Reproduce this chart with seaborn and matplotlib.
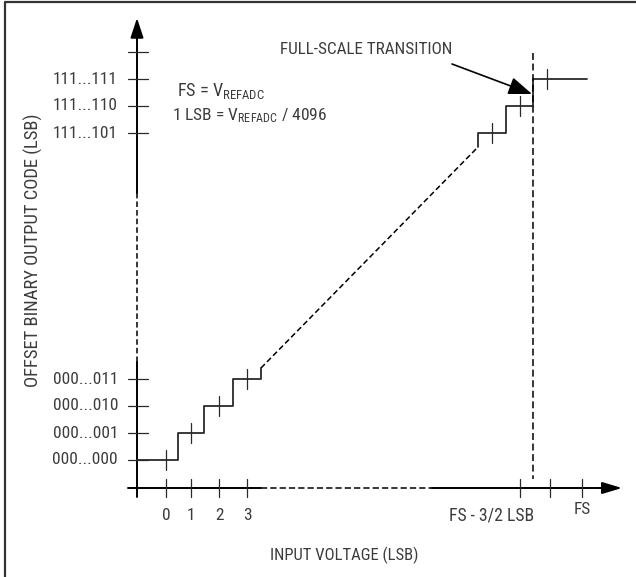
import matplotlib
matplotlib.use('Agg')
import matplotlib.pyplot as plt
from matplotlib import font_manager
import seaborn as sns
import pandas as pd

# diagram coordinates are in pixels of the 636x577 canvas (y grows downward)
code_tick_y = [460, 433, 406, 379, 133, 106, 79, 52]
code_labels = ['000...000', '000...001', '000...010', '000...011',
               '111...101', '111...110', '111...111', '']
volt_tick_x = [166, 191, 219, 247, 520, 550, 582]
volt_labels = ['0', '1', '2', '3', '', '', 'FS']

# lower staircase: transition points and output levels
lo_edges = [137, 178, 204, 233, 261]
lo_levels = [460, 433, 406, 379]
lo_centers = [166, 191, 219, 247]
# upper staircase
hi_edges = [478, 506, 533, 587]
hi_levels = [133, 106, 79]
hi_centers = [492, 520, 547]
# dashed ramp between the two staircases
ramp_x = [261, 478]
ramp_y = [368, 147]
transition_x = 533

names = {f.name for f in font_manager.fontManager.ttflist}
FONT = next(n for n in ['Roboto Condensed', 'Archivo Narrow', 'Liberation Sans Narrow',
                        'Liberation Sans'] if n in names)

sns.set_theme(style='white')
plt.rcParams['font.family'] = [FONT, 'DejaVu Sans']
plt.rcParams['lines.scale_dashes'] = False
plt.rcParams['mathtext.default'] = 'regular'
plt.rcParams['mathtext.fontset'] = 'custom'
plt.rcParams['mathtext.rm'] = FONT

TXT = '#3c3c3c'
LINE = '#2a2a2a'

fig = plt.figure(figsize=(6.36, 5.77), dpi=100)
ax = fig.add_axes([0, 0, 1, 1])
ax.set_xlim(0, 636)
ax.set_ylim(577, 0)
ax.axis('off')
renderer = fig.canvas.get_renderer()


def stairs(edges, levels):
    xs, ys = [], []
    for i, lev in enumerate(levels):
        xs += [edges[i], edges[i + 1]]
        ys += [lev, lev]
    return xs, ys


def draw(xs, ys, **kw):
    df = pd.DataFrame({'x': xs, 'y': ys})
    sns.lineplot(data=df, x='x', y='y', sort=False, estimator=None, ax=ax, **kw)


def fit_size(txt, target, vertical=False):
    # font size that makes txt span `target` pixels, as measured on the reference
    t = ax.text(0, 0, txt, fontsize=12, rotation=90 if vertical else 0)
    bb = t.get_window_extent(renderer)
    t.remove()
    return 12 * target / (bb.height if vertical else bb.width)


# outer frame (left and top)
draw([4.5, 4.5, 636], [577, 2, 2], color='#333333', linewidth=1.6)

# axes
draw([137, 137], [497, 362], color='black', linewidth=1.4)
draw([137, 137], [362, 193], color='black', linewidth=1.1, linestyle=(0, (4, 2.2)))
draw([137, 137], [193, 36], color='black', linewidth=1.4)
draw([128, 261], [488, 488], color='black', linewidth=1.4)
draw([261, 432], [488, 488], color='black', linewidth=1.1, linestyle=(0, (4.5, 2.2)))
draw([432, 605], [488, 488], color='black', linewidth=1.4)
ax.annotate('', xy=(137, 18), xytext=(137, 40),
            arrowprops=dict(arrowstyle='-|>,head_length=1.0,head_width=0.33',
                            color='black', lw=1.4, shrinkA=0, shrinkB=0))
ax.annotate('', xy=(622, 488), xytext=(598, 488),
            arrowprops=dict(arrowstyle='-|>,head_length=1.0,head_width=0.3',
                            color='black', lw=1.4, shrinkA=0, shrinkB=0))

# ticks
for y in code_tick_y:
    draw([128, 148], [y, y], color=LINE, linewidth=0.9)
for x in volt_tick_x:
    draw([x, x], [479, 497], color=LINE, linewidth=0.9)

# transfer function
xs, ys = stairs(lo_edges, lo_levels)
xs.append(lo_edges[-1])
ys.append(ramp_y[0])
draw(xs, ys, color=LINE, linewidth=1.3)
draw(ramp_x, ramp_y, color='black', linewidth=1.1, linestyle=(0, (4, 2.2)))
xs, ys = stairs(hi_edges, hi_levels)
xs.insert(0, ramp_x[1])
ys.insert(0, ramp_y[1])
draw(xs, ys, color=LINE, linewidth=1.3)
for cx, lev in zip(lo_centers + hi_centers, lo_levels + hi_levels):
    draw([cx, cx], [lev - 10, lev + 10], color=LINE, linewidth=0.9)

# full-scale transition marker
draw([transition_x, transition_x], [53, 479], color='black', linewidth=1.1,
     linestyle=(0, (5, 2.6)))
ax.annotate('', xy=(532, 94), xytext=(452, 64),
            arrowprops=dict(arrowstyle='-|>,head_length=1.2,head_width=0.45',
                            color='black', lw=1.2, shrinkA=0, shrinkB=0))
ax.text(280, 50, 'FULL-SCALE TRANSITION', color=TXT, va='center', ha='left',
        fontsize=fit_size('FULL-SCALE TRANSITION', 172))

# tick labels
tick_fs = fit_size('000...000', 64)
for y, lab in zip(code_tick_y, code_labels):
    ax.text(118, y, lab, ha='right', va='center', fontsize=tick_fs, color=TXT)
for x, lab in zip(volt_tick_x, volt_labels):
    ax.text(x, 509 if lab == 'FS' else 515, lab, ha='center', va='center',
            fontsize=tick_fs, color=TXT)
ax.text(492, 515, 'FS - 3/2 LSB', ha='center', va='center', color=TXT,
        fontsize=fit_size('FS - 3/2 LSB', 85))

fs_txt = r'FS = V$_{REFADC}$'
lsb_txt = r'1 LSB = V$_{REFADC}$ / 4096'
ax.text(177, 91, fs_txt, ha='left', va='center', color=TXT,
        fontsize=fit_size(fs_txt, 88))
ax.text(172, 116, lsb_txt, ha='left', va='center', color=TXT,
        fontsize=fit_size(lsb_txt, 155))

ax.text(344, 555, 'INPUT VOLTAGE (LSB)', ha='center', va='center', color=TXT,
        fontsize=fit_size('INPUT VOLTAGE (LSB)', 148))
ylab = 'OFFSET BINARY OUTPUT CODE (LSB)'
ax.text(33, 250, ylab, ha='center', va='center', rotation=90, color=TXT,
        fontsize=fit_size(ylab, 274, vertical=True))

fig.savefig('out.png', dpi=100, facecolor='white')
